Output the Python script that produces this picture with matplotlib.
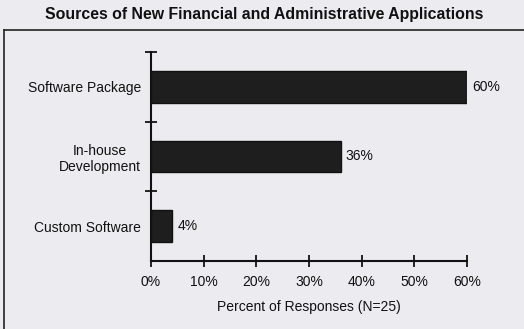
import matplotlib.pyplot as plt
from matplotlib.lines import Line2D

categories = ["Software Package", "In-house\nDevelopment", "Custom Software"]
percents = [60, 36, 4]
x_ticks = [0, 10, 20, 30, 40, 50, 60]

plt.rcParams["font.family"] = ["Liberation Sans", "DejaVu Sans"]

fig = plt.figure(figsize=(5.24, 3.29), dpi=100)
fig.patch.set_facecolor("#ececf0")

# outer frame (top and left edges visible in the scan)
fig.add_artist(Line2D([4 / 524, 1.0], [1 - 30 / 329, 1 - 30 / 329], color="#222222", lw=1.2))
fig.add_artist(Line2D([4 / 524, 4 / 524], [0.0, 1 - 30 / 329], color="#222222", lw=1.2))

fig.text(0.5 + 2 / 524, 1 - 14 / 329, "Sources of New Financial and Administrative Applications",
         ha="center", va="center", fontsize=11.4, fontweight="bold", color="#111111")

ax = fig.add_axes([151 / 524, 1 - 261 / 329, (467 - 151) / 524, (261 - 52) / 329])
ax.set_facecolor("none")

ypos = list(range(len(categories)))
ax.barh(ypos, percents, height=0.45, color="#1e1e1e", edgecolor="#111111")
for y, v in zip(ypos, percents):
    ax.text(v + 1, y, f"{v}%", va="center", ha="left", fontsize=10, color="#111111")

ax.set_xlim(0, 60)
ax.set_ylim(len(categories) - 0.5, -0.5)
ax.set_xticks(x_ticks)
ax.set_xticklabels([f"{t}%" for t in x_ticks], fontsize=10, color="#111111")
ax.set_yticks([y - 0.5 for y in ypos])
ax.set_yticklabels([])
ax.set_yticks(ypos, minor=True)
ax.set_yticklabels(categories, minor=True, fontsize=10, ha="right", multialignment="center",
                   color="#111111")
ax.tick_params(axis="y", which="minor", length=0, pad=7)
ax.tick_params(axis="y", which="major", direction="inout", length=8, width=1.2)
ax.tick_params(axis="x", direction="inout", length=8, width=1.2, pad=6)
ax.set_xlabel("Percent of Responses (N=25)", fontsize=10, labelpad=8, color="#111111")

for side in ["top", "right"]:
    ax.spines[side].set_visible(False)
for side in ["left", "bottom"]:
    ax.spines[side].set_linewidth(1.5)
    ax.spines[side].set_color("#111111")

fig.savefig("out.png", dpi=100, facecolor=fig.get_facecolor())
